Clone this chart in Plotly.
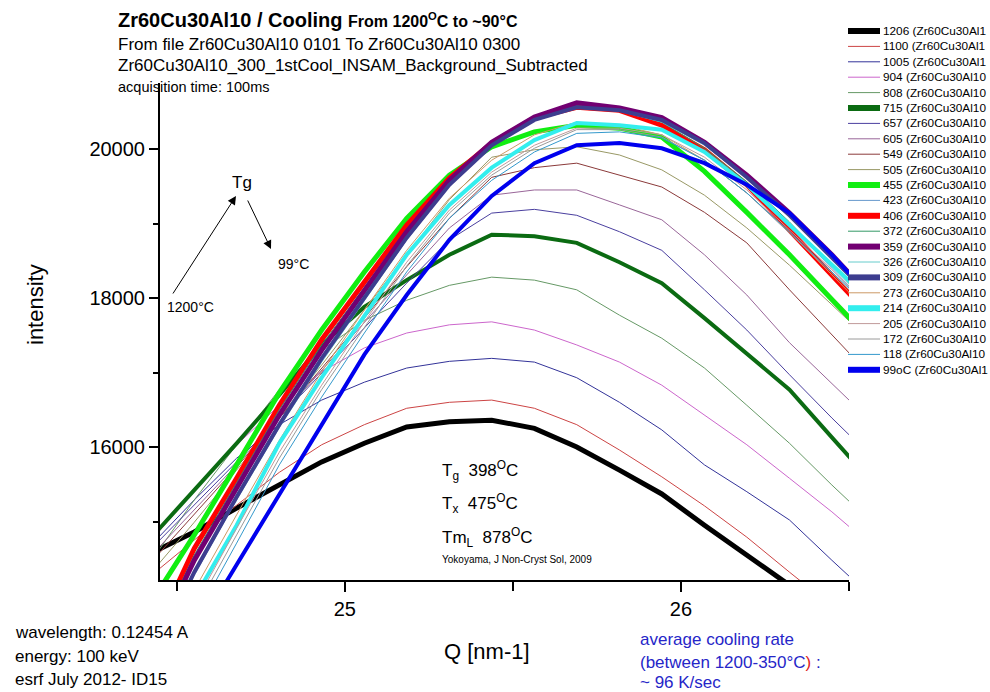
import plotly.graph_objects as go

# ---------------------------------------------------------------------------
# Data: intensity vs Q for the Zr60Cu30Al10 cooling series (first sharp peak)
# ---------------------------------------------------------------------------
q = [24.425, 24.552, 24.678, 24.805, 24.931, 25.058, 25.184, 25.311, 25.437,
     25.564, 25.690, 25.817, 25.943, 26.070, 26.196, 26.323, 26.449, 26.576]

temps = ["1206", "1100", "1005", "904", "808", "715", "657", "605", "549", "505",
         "455", "423", "406", "372", "359", "326", "309", "273", "214", "205",
         "172", "118", "99oC"]

i_1206 = [14580, 14860, 15180, 15500, 15800, 16050, 16270, 16340, 16360, 16250, 16000, 15690, 15370, 14950, 14550, 14150, 13740, 13340]
i_1100 = [14280, 14750, 15220, 15660, 16030, 16300, 16520, 16600, 16630, 16520, 16300, 15960, 15600, 15210, 14790, 14320, 13880, 13410]
i_1005 = [14690, 15290, 15850, 16300, 16630, 16870, 17060, 17150, 17190, 17140, 16930, 16600, 16230, 15760, 15400, 15020, 14480, 13950]
i_904 = [14750, 15420, 16030, 16560, 17010, 17330, 17530, 17640, 17680, 17570, 17370, 17140, 16830, 16430, 16030, 15580, 15130, 14640]
i_808 = [14480, 15290, 16030, 16770, 17300, 17700, 17970, 18170, 18280, 18240, 18110, 17770, 17460, 17060, 16560, 16050, 15490, 14950]
i_715 = [14790, 15420, 16050, 16700, 17370, 17880, 18240, 18580, 18850, 18830, 18740, 18480, 18200, 17730, 17260, 16770, 16130, 15490]
i_657 = [14640, 15220, 15800, 16390, 16990, 17600, 18200, 18780, 19140, 19190, 19110, 18890, 18640, 18110, 17570, 16970, 16390, 15830]
i_605 = [14550, 15150, 15760, 16390, 17030, 17680, 18310, 18940, 19380, 19450, 19450, 19250, 19050, 18580, 18040, 17400, 16860, 16300]
i_549 = [14460, 15090, 15730, 16390, 17060, 17730, 18420, 19070, 19620, 19750, 19810, 19650, 19490, 19150, 18740, 18110, 17500, 16900]
i_505 = [14320, 14990, 15690, 16390, 17100, 17840, 18580, 19320, 19890, 19990, 20030, 19920, 19720, 19380, 18940, 18440, 17910, 17370]
i_455 = [13920, 14820, 15760, 16730, 17570, 18350, 19070, 19650, 20030, 20230, 20320, 20280, 20160, 19700, 19150, 18580, 17980, 17380]
i_423 = [13280, 14480, 15450, 16430, 17300, 18110, 18890, 19560, 20050, 20390, 20550, 20500, 20320, 19990, 19520, 18980, 18400, 17810]
i_406 = [13410, 14640, 15580, 16560, 17440, 18210, 18980, 19610, 20080, 20420, 20560, 20520, 20320, 19990, 19520, 18910, 18310, 17700]
i_372 = [13340, 14550, 15520, 16500, 17370, 18150, 18910, 19580, 20080, 20420, 20580, 20520, 20360, 20010, 19560, 19020, 18440, 17840]
i_359 = [13280, 14480, 15450, 16430, 17300, 18110, 18890, 19580, 20090, 20430, 20620, 20550, 20420, 20090, 19650, 19140, 18580, 17970]
i_326 = [13070, 14280, 15290, 16260, 17140, 17970, 18780, 19500, 20040, 20380, 20550, 20510, 20360, 20050, 19610, 19110, 18580, 18000]
i_309 = [13140, 14320, 15330, 16300, 17190, 18010, 18810, 19520, 20050, 20390, 20560, 20520, 20390, 20080, 19620, 19110, 18540, 17970]
i_273 = [12870, 14080, 15090, 16090, 17010, 17840, 18640, 19340, 19850, 20190, 20360, 20320, 20190, 19850, 19410, 18890, 18310, 17730]
i_214 = [12600, 13970, 14950, 16050, 16930, 17760, 18580, 19250, 19750, 20120, 20350, 20320, 20260, 19960, 19520, 18980, 18440, 17910]
i_205 = [12540, 13880, 14910, 15930, 16830, 17680, 18480, 19180, 19690, 20050, 20280, 20280, 20190, 19890, 19450, 18910, 18380, 17810]
i_172 = [12470, 13790, 14820, 15850, 16770, 17610, 18430, 19140, 19650, 20010, 20260, 20260, 20160, 19850, 19410, 18870, 18340, 17770]
i_118 = [12340, 13680, 14710, 15760, 16670, 17530, 18350, 19070, 19580, 19960, 20210, 20230, 20150, 19850, 19410, 18890, 18350, 17810]
i_99 = [12340, 13480, 14420, 15360, 16300, 17240, 18040, 18780, 19370, 19810, 20050, 20080, 20010, 19810, 19520, 19140, 18580, 17970]

series = [i_1206, i_1100, i_1005, i_904, i_808, i_715, i_657, i_605, i_549, i_505,
          i_455, i_423, i_406, i_372, i_359, i_326, i_309, i_273, i_214, i_205,
          i_172, i_118, i_99]

colors = ["#000000", "#cc4444", "#333399", "#cc66cc", "#669966", "#0b6b12", "#4a3f9f",
          "#996699", "#8b3a3a", "#999966", "#11ee11", "#6699cc", "#ff0000", "#339966",
          "#720072", "#66cccc", "#3d3d8f", "#cc9966", "#33eeee", "#c09a9a", "#9a9a9a",
          "#3399cc", "#0000ee"]
widths = [5, 1, 1, 1, 1, 4, 1, 1, 1, 1, 5, 1, 5, 1, 5, 1, 4, 1, 4, 1, 1, 1, 4]

# Legend entries as printed in the narrow right-hand column
legend_labels = [f"{t} (Zr60Cu30Al10)"[:17] for t in temps]

x_tick_vals = [25, 26]
x_minor_vals = [24.5, 25.5, 26.5]
y_tick_vals = [16000, 18000, 20000]
y_minor_vals = [15000, 17000, 19000]

# ---------------------------------------------------------------------------
# Page geometry
# ---------------------------------------------------------------------------
FIG_W, FIG_H = 990, 692
M_L, M_R, M_T, M_B = 160, 141, 83, 112
PW = FIG_W - M_L - M_R
PH = FIG_H - M_T - M_B
FONT = "Arial, Liberation Sans, sans-serif"


def px(x):
    """Horizontal page pixel -> paper fraction."""
    return (x - M_L) / PW


def py(y):
    """Vertical page pixel (from top) -> paper fraction."""
    return (FIG_H - M_B - y) / PH


fig = go.Figure()
for name, vals, col, w in zip(temps, series, colors, widths):
    fig.add_trace(go.Scatter(x=q, y=vals, mode="lines", name=name,
                             line=dict(color=col, width=w), showlegend=False))

annotations = []
shapes = []


def text(x, y, s, size, color="black", anchor="left", **kw):
    annotations.append(dict(x=px(x), y=py(y), xref="paper", yref="paper", text=s,
                            showarrow=False, xanchor=anchor, yanchor="middle",
                            font=dict(family=FONT, size=size, color=color), **kw))


# Header block
text(116, 20, "<b>Zr60Cu30Al10 / Cooling <span style='font-size:16px'>From 1200<sup>O</sup>C to ~90°C</span></b>", 20)
text(116, 44, "From file Zr60Cu30Al10 0101 To Zr60Cu30Al10 0300", 17)
text(116, 65, "Zr60Cu30Al10_300_1stCool_INSAM_Background_Subtracted", 17)
text(116, 87, "acquisition time: 100ms", 14.5)

# Axis titles
text(35, 305, "intensity", 22, anchor="center", textangle=-90)
text(487, 651, "Q [nm-1]", 22, anchor="center")

# Transition arrows
text(242, 182, "Tg", 17, anchor="center")
text(293, 264, "99°C", 14, anchor="center")
text(190, 307, "1200°C", 14, anchor="center")
for (hx, hy, tx, ty) in [(236, 196, 172, 295), (271, 249, 247, 199)]:
    annotations.append(dict(x=px(hx), y=py(hy), xref="paper", yref="paper", text="",
                            showarrow=True, ax=tx - hx, ay=ty - hy, axref="pixel",
                            ayref="pixel", arrowhead=2, arrowsize=1.7, arrowwidth=1,
                            arrowcolor="black", standoff=0))

# Characteristic temperatures
text(440, 470, "T<sub>g</sub>\u00a0\u00a0398<sup>O</sup>C", 17)
text(440, 503, "T<sub>x</sub>\u00a0\u00a0475<sup>O</sup>C", 17)
text(440, 537, "Tm<sub>L</sub>\u00a0\u00a0878<sup>O</sup>C", 17)
text(440, 559, "Yokoyama, J Non-Cryst Sol, 2009", 10)

# Beamline notes
text(13, 632, "wavelength: 0.12454 A", 17)
text(13, 656, "energy: 100 keV", 17)
text(13, 679, "esrf July 2012- ID15", 17)

BLUE = "#2626c8"
text(638, 639, "average cooling rate", 17, color=BLUE)
text(638, 662, "(between 1200-350°C<span style='color:#e02020'>)</span> :", 17, color=BLUE)
text(638, 682, "~ 96 K/sec", 17, color=BLUE)

# Legend column at the right edge
LEG_TOP, LEG_STEP = 31, 15.4
for k, (label, col, w) in enumerate(zip(legend_labels, colors, widths)):
    yy = LEG_TOP + k * LEG_STEP
    shapes.append(dict(type="line", xref="paper", yref="paper",
                       x0=px(848), x1=px(880), y0=py(yy), y1=py(yy),
                       line=dict(color=col, width=6 if w > 1 else 1)))
    text(881, yy, label, 11.8)

axis_common = dict(showline=True, linecolor="black", linewidth=2, ticks="outside",
                   tickwidth=2, tickcolor="black", showgrid=False, zeroline=False,
                   tickfont=dict(family=FONT, size=20, color="black"))

fig.update_layout(
    width=FIG_W, height=FIG_H,
    margin=dict(l=M_L, r=M_R, t=M_T, b=M_B, autoexpand=False),
    paper_bgcolor="white", plot_bgcolor="white",
    showlegend=False,
    xaxis=dict(range=[24.45, 26.5], tickvals=x_tick_vals, ticklen=10,
               minor=dict(tickvals=x_minor_vals, ticks="outside", ticklen=9,
                          tickwidth=2, tickcolor="black"),
               **axis_common),
    yaxis=dict(range=[14215, 20886], tickvals=y_tick_vals,
               ticktext=[str(v) for v in y_tick_vals], ticklen=9,
               minor=dict(tickvals=y_minor_vals, ticks="outside", ticklen=5,
                          tickwidth=2, tickcolor="black"),
               **axis_common),
    annotations=annotations,
    shapes=shapes,
)

fig.write_html("out.html")
